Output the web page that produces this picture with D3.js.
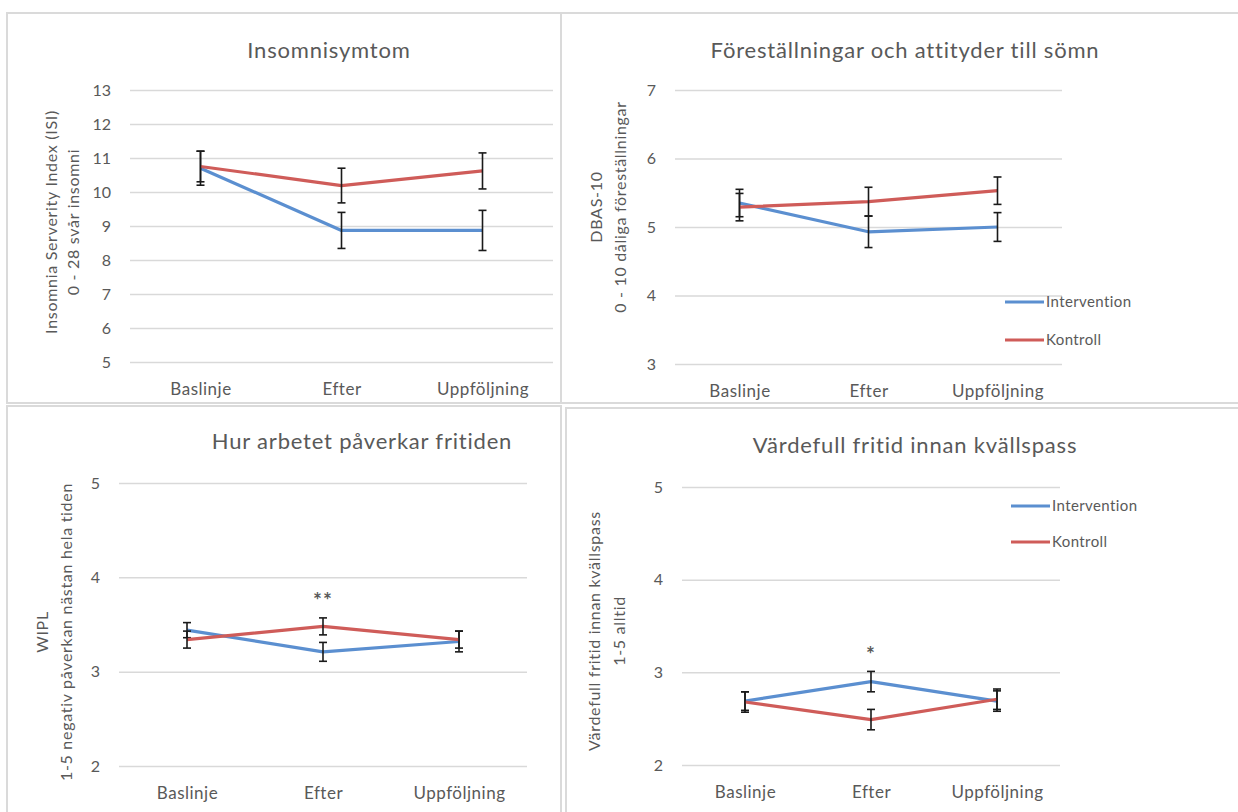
<!DOCTYPE html>
<html>
<head>
<meta charset="utf-8">
<script src="https://cdn.jsdelivr.net/npm/d3@7"></script>
<style>
  body { margin: 0; background: #fff; }
  svg text { font-family: Lato, "Liberation Sans", sans-serif; fill: #595959; }
</style>
</head>
<body>
<svg id="chart" width="1238" height="812"></svg>
<script>
// shared categories / series
var categories = ["Baslinje", "Efter", "Uppföljning"];
var seriesNames = ["Intervention", "Kontroll"];
var seriesColors = ["#5b8fd0", "#cf5c59"];

// Insomnisymtom (ISI)
var isiTicks = [5, 6, 7, 8, 9, 10, 11, 12, 13];
var isiIntervention = [10.70, 8.87, 8.87];
var isiInterventionErr = [0.50, 0.53, 0.59];
var isiKontroll = [10.75, 10.19, 10.62];
var isiKontrollErr = [0.45, 0.51, 0.53];

// Föreställningar och attityder (DBAS-10)
var dbasTicks = [3, 4, 5, 6, 7];
var dbasIntervention = [5.35, 4.93, 5.00];
var dbasInterventionErr = [0.20, 0.23, 0.21];
var dbasKontroll = [5.29, 5.37, 5.53];
var dbasKontrollErr = [0.20, 0.21, 0.20];

// Hur arbetet påverkar fritiden (WIPL)
var wiplTicks = [2, 3, 4, 5];
var wiplIntervention = [3.44, 3.21, 3.32];
var wiplInterventionErr = [0.08, 0.10, 0.11];
var wiplKontroll = [3.34, 3.48, 3.34];
var wiplKontrollErr = [0.09, 0.09, 0.09];
var wiplSig = ["", "**", ""];
var wiplSigAt = [null, 3.80, null];

// Värdefull fritid innan kvällspass
var fritidTicks = [2, 3, 4, 5];
var fritidIntervention = [2.69, 2.90, 2.69];
var fritidInterventionErr = [0.10, 0.11, 0.11];
var fritidKontroll = [2.68, 2.49, 2.71];
var fritidKontrollErr = [0.11, 0.11, 0.11];
var fritidSig = ["", "*", ""];
var fritidSigAt = [null, 3.24, null];

var svg = d3.select("#chart");

// layout of the four panels
var panels = [
    { frame: [7, 13, 554, 390], title: "Insomnisymtom", titleX: 329, titleY: 58,
      left: 130, right: 553, top: 90, bottom: 362, ticks: isiTicks,
      values: [isiIntervention, isiKontroll], errs: [isiInterventionErr, isiKontrollErr],
      yTitle: ["Insomnia Serverity Index (ISI)", "0 - 28 svår insomni"], yTitleX: [51, 73], yTitleY: 222,
      legend: null, sig: null },
    { frame: [561, 13, 700, 390], title: "Föreställningar och attityder till sömn", titleX: 905, titleY: 58,
      left: 675, right: 1062, top: 90, bottom: 364, ticks: dbasTicks,
      values: [dbasIntervention, dbasKontroll], errs: [dbasInterventionErr, dbasKontrollErr],
      yTitle: ["DBAS-10", "0 - 10 dåliga föreställningar"], yTitleX: [596, 620], yTitleY: 207,
      legend: { x: 1005, y: 302, gap: 38 }, sig: null },
    { frame: [7, 406, 554, 420], title: "Hur arbetet påverkar fritiden", titleX: 362, titleY: 449,
      left: 119, right: 527, top: 483, bottom: 766, ticks: wiplTicks,
      values: [wiplIntervention, wiplKontroll], errs: [wiplInterventionErr, wiplKontrollErr],
      yTitle: ["WIPL", "1-5 negativ påverkan nästan hela tiden"], yTitleX: [42, 66], yTitleY: 632,
      legend: null, sig: [wiplSig, wiplSigAt] },
    { frame: [566, 408, 700, 420], title: "Värdefull fritid innan kvällspass", titleX: 915, titleY: 453,
      left: 682, right: 1060, top: 487, bottom: 765, ticks: fritidTicks,
      values: [fritidIntervention, fritidKontroll], errs: [fritidInterventionErr, fritidKontrollErr],
      yTitle: ["Värdefull fritid innan kvällspass", "1-5 alltid"], yTitleX: [594, 619], yTitleY: 631,
      legend: { x: 1011, y: 506, gap: 36 }, sig: [fritidSig, fritidSigAt] }
];

// frames first so the lines of neighbouring panels sit under the content
panels.forEach(function(p) {
    svg.append("rect")
        .attr("x", p.frame[0]).attr("y", p.frame[1])
        .attr("width", p.frame[2]).attr("height", p.frame[3])
        .attr("fill", "#fff")
        .attr("stroke", "#dadada")
        .attr("stroke-width", 2);
});

var drawPanel = function(p) {
    var x = d3.scalePoint().domain(categories).range([p.left, p.right]).padding(0.5);
    var y = d3.scaleLinear().domain(d3.extent(p.ticks)).range([p.bottom, p.top]);
    var g = svg.append("g");

    // y axis + gridlines
    var yAxis = g.append("g")
        .attr("transform", "translate(" + p.left + ",0)")
        .call(d3.axisLeft(y).tickValues(p.ticks).tickFormat(d3.format("d"))
            .tickSize(-(p.right - p.left)).tickPadding(19));
    yAxis.select(".domain").remove();
    yAxis.selectAll(".tick line").attr("stroke", "#d9d9d9").attr("stroke-width", 1.5);
    yAxis.selectAll(".tick text").style("font-size", "16px").attr("fill", "#595959");

    // x axis labels
    var xAxis = g.append("g")
        .attr("transform", "translate(0," + p.bottom + ")")
        .call(d3.axisBottom(x).tickSize(0).tickPadding(21));
    xAxis.select(".domain").remove();
    xAxis.selectAll(".tick text")
        .style("font-size", "17px").style("letter-spacing", "0.5px").attr("fill", "#595959");

    // title
    g.append("text")
        .attr("x", p.titleX).attr("y", p.titleY)
        .attr("text-anchor", "middle")
        .style("font-size", "22px")
        .style("letter-spacing", "0.8px")
        .text(p.title);

    // y axis title (two lines)
    p.yTitle.forEach(function(line, i) {
        g.append("text")
            .attr("transform", "translate(" + p.yTitleX[i] + "," + p.yTitleY + ") rotate(-90)")
            .attr("text-anchor", "middle")
            .attr("dy", "0.35em")
            .style("font-size", "16px")
            .style("letter-spacing", "0.7px")
            .text(line);
    });

    var line = d3.line()
        .x(function(d, i) { return x(categories[i]); })
        .y(function(d) { return y(d); });

    p.values.forEach(function(vals, s) {
        g.append("path")
            .datum(vals)
            .attr("fill", "none")
            .attr("stroke", seriesColors[s])
            .attr("stroke-width", 3.2)
            .attr("stroke-linejoin", "round")
            .attr("d", line);

        var bars = g.append("g").selectAll("g")
            .data(vals.map(function(v, i) { return { cat: categories[i], v: v, e: p.errs[s][i] }; }))
            .join("g")
            .attr("stroke", "#1a1a1a")
            .attr("stroke-width", 1.6);
        bars.append("line")
            .attr("x1", function(d) { return x(d.cat); })
            .attr("x2", function(d) { return x(d.cat); })
            .attr("y1", function(d) { return y(d.v - d.e); })
            .attr("y2", function(d) { return y(d.v + d.e); });
        [-1, 1].forEach(function(sign) {
            bars.append("line")
                .attr("x1", function(d) { return x(d.cat) - 4; })
                .attr("x2", function(d) { return x(d.cat) + 4; })
                .attr("y1", function(d) { return y(d.v + sign * d.e); })
                .attr("y2", function(d) { return y(d.v + sign * d.e); });
        });
    });

    // significance marks
    if (p.sig) {
        p.sig[0].forEach(function(mark, i) {
            if (!mark) return;
            g.append("text")
                .attr("x", x(categories[i]))
                .attr("y", y(p.sig[1][i]))
                .attr("dy", "0.55em")
                .attr("text-anchor", "middle")
                .style("font-size", "21px")
                .style("font-weight", "bold")
                .style("letter-spacing", "1px")
                .attr("fill", "#404040")
                .text(mark);
        });
    }

    // legend
    if (p.legend) {
        seriesNames.forEach(function(name, s) {
            var ly = p.legend.y + s * p.legend.gap;
            g.append("line")
                .attr("x1", p.legend.x).attr("x2", p.legend.x + 39)
                .attr("y1", ly).attr("y2", ly)
                .attr("stroke", seriesColors[s]).attr("stroke-width", 3.2);
            g.append("text")
                .attr("x", p.legend.x + 41).attr("y", ly)
                .attr("dy", "0.35em")
                .style("font-size", "15px")
                .style("letter-spacing", "0.4px")
                .text(name);
        });
    }
};

panels.forEach(drawPanel);
</script>
</body>
</html>
